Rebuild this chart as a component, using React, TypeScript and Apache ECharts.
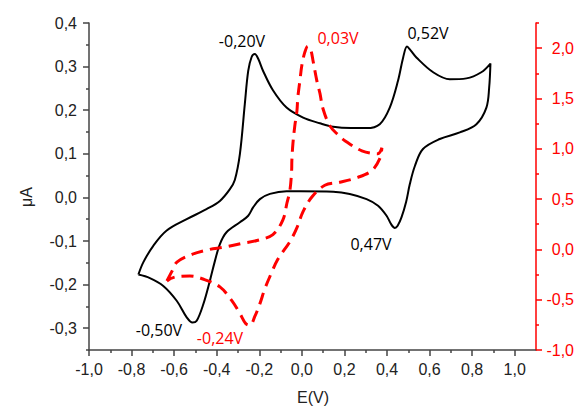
import React, { useEffect, useRef } from "react";
import * as echarts from "echarts";

// Black CV curve (left axis, µA): [E (V), I (µA)]
const blackCV: number[][] = [
  [-0.768, -0.177], [-0.745, -0.149], [-0.698, -0.111], [-0.635, -0.076], [-0.541, -0.05],
  [-0.448, -0.027], [-0.385, -0.008], [-0.338, 0.019], [-0.315, 0.04], [-0.291, 0.1],
  [-0.268, 0.214], [-0.252, 0.29], [-0.236, 0.322], [-0.221, 0.329], [-0.205, 0.318],
  [-0.182, 0.29], [-0.135, 0.245], [-0.072, 0.206], [0.006, 0.183], [0.085, 0.17],
  [0.147, 0.162], [0.23, 0.159], [0.304, 0.159], [0.366, 0.168], [0.413, 0.206],
  [0.452, 0.268], [0.476, 0.321], [0.494, 0.346], [0.51, 0.338], [0.538, 0.321],
  [0.617, 0.287], [0.695, 0.271], [0.773, 0.273], [0.843, 0.287], [0.886, 0.307],
  [0.88, 0.252], [0.867, 0.206], [0.82, 0.168], [0.742, 0.149], [0.648, 0.134],
  [0.569, 0.111], [0.531, 0.072], [0.507, 0.03], [0.49, -0.01], [0.468, -0.046],
  [0.45, -0.065], [0.437, -0.07], [0.42, -0.062], [0.398, -0.042], [0.358, -0.019],
  [0.304, -0.004], [0.225, 0.008], [0.147, 0.013], [-0.009, 0.014], [-0.072, 0.014],
  [-0.15, 0.008], [-0.197, -0.004], [-0.229, -0.023], [-0.252, -0.042], [-0.291, -0.057],
  [-0.354, -0.08], [-0.385, -0.107], [-0.408, -0.145], [-0.432, -0.191], [-0.463, -0.245],
  [-0.494, -0.283], [-0.514, -0.287], [-0.541, -0.275], [-0.588, -0.237], [-0.651, -0.203],
  [-0.714, -0.185], [-0.768, -0.177],
];

// Red dashed CV curve (right axis): [E (V), value]
const redCV: number[][] = [
  [-0.634, -0.314], [-0.61, -0.216], [-0.587, -0.127], [-0.516, -0.049], [-0.432, 0.0],
  [-0.371, 0.02], [-0.282, 0.059], [-0.211, 0.088], [-0.136, 0.147], [-0.089, 0.294],
  [-0.07, 0.461], [-0.056, 0.588], [-0.048, 0.784], [-0.047, 0.882], [-0.042, 1.05],
  [-0.033, 1.23], [-0.023, 1.38], [-0.019, 1.51], [-0.009, 1.68], [0.0, 1.83],
  [0.014, 1.96], [0.028, 2.02], [0.042, 1.98], [0.052, 1.88], [0.07, 1.68],
  [0.085, 1.55], [0.099, 1.4], [0.131, 1.23], [0.169, 1.14], [0.202, 1.08],
  [0.282, 0.98], [0.357, 0.951], [0.376, 1.01], [0.366, 0.902], [0.329, 0.784],
  [0.263, 0.716], [0.178, 0.667], [0.108, 0.637], [0.047, 0.52], [0.005, 0.373],
  [-0.023, 0.216], [-0.056, 0.078], [-0.113, -0.098], [-0.141, -0.225], [-0.174, -0.392],
  [-0.197, -0.539], [-0.221, -0.667], [-0.244, -0.755], [-0.263, -0.74], [-0.291, -0.637],
  [-0.329, -0.51], [-0.385, -0.373], [-0.465, -0.294], [-0.526, -0.265], [-0.596, -0.275],
  [-0.634, -0.314],
];

const xLabels = [-1.0, -0.8, -0.6, -0.4, -0.2, 0.0, 0.2, 0.4, 0.6, 0.8, 1.0];
const xMinor = [-0.9, -0.7, -0.5, -0.3, -0.1, 0.1, 0.3, 0.5, 0.7, 0.9];
const yLeftLabels = [-0.3, -0.2, -0.1, 0.0, 0.1, 0.2, 0.3, 0.4];
const yLeftMinor = [-0.35, -0.25, -0.15, -0.05, 0.05, 0.15, 0.25, 0.35];
const yRightLabels = [-1.0, -0.5, 0.0, 0.5, 1.0, 1.5, 2.0];
const yRightMinor = [-0.75, -0.25, 0.25, 0.75, 1.25, 1.75, 2.25];

const annotations = [
  { text: "-0,20V", x: 242, y: 41, color: "#000" },
  { text: "0,03V", x: 338, y: 38, color: "#ff0000" },
  { text: "0,52V", x: 428, y: 33, color: "#000" },
  { text: "0,47V", x: 371, y: 244, color: "#000" },
  { text: "-0,50V", x: 159, y: 330, color: "#000" },
  { text: "-0,24V", x: 220, y: 338, color: "#ff0000" },
];

const fmt = (v: number) => v.toFixed(1).replace(".", ",");
const AXIS_FONT = "'Liberation Sans', Arial, sans-serif";

export default function App() {
  const ref = useRef<HTMLDivElement>(null);
  useEffect(() => {
    document.body.style.margin = "0";
    const chart = echarts.init(ref.current!, undefined, { renderer: "svg" });
    const gray = "#444";
    const red = "#ff0000";
    const baseX = { type: "value", min: -1.0, max: 1.1, gridIndex: 0, position: "bottom", splitLine: { show: false } };
    const leftY = { type: "value", min: -0.35, max: 0.4, position: "left", splitLine: { show: false } };
    const rightY = { type: "value", min: -1.0, max: 2.25, position: "right", splitLine: { show: false } };
    chart.setOption({
      animation: false,
      grid: { left: 89, right: 41, top: 23, bottom: 56, containLabel: false },
      xAxis: [
        {
          ...baseX,
          axisLine: { show: true, onZero: false, lineStyle: { color: gray, width: 1.5 } },
          axisTick: { show: true, inside: false, length: 6, customValues: xLabels, lineStyle: { color: gray, width: 1.5 } },
          axisLabel: { customValues: xLabels, formatter: fmt, color: "#222", fontSize: 16, fontFamily: AXIS_FONT, margin: 11 },
        },
        {
          ...baseX,
          axisLine: { show: false, onZero: false },
          axisTick: { show: true, inside: false, length: 3, customValues: xMinor, lineStyle: { color: gray, width: 1.5 } },
          axisLabel: { show: false },
        },
      ],
      yAxis: [
        {
          ...leftY,
          axisLine: { show: true, onZero: false, lineStyle: { color: gray, width: 1.5 } },
          axisTick: { show: true, length: 6, customValues: yLeftLabels, lineStyle: { color: gray, width: 1.5 } },
          axisLabel: { customValues: yLeftLabels, formatter: fmt, color: "#222", fontSize: 16, fontFamily: AXIS_FONT, margin: 12 },
        },
        {
          ...leftY,
          axisLine: { show: false, onZero: false },
          axisTick: { show: true, length: 3, customValues: yLeftMinor, lineStyle: { color: gray, width: 1.5 } },
          axisLabel: { show: false },
        },
        {
          ...rightY,
          axisLine: { show: true, onZero: false, lineStyle: { color: red, width: 1.5 } },
          axisTick: { show: true, length: 6, customValues: yRightLabels, lineStyle: { color: red, width: 1.5 } },
          axisLabel: { customValues: yRightLabels, formatter: fmt, color: red, fontSize: 16, fontFamily: AXIS_FONT, margin: 38, align: "right" },
        },
        {
          ...rightY,
          axisLine: { show: false, onZero: false },
          axisTick: { show: true, length: 3, customValues: yRightMinor, lineStyle: { color: red, width: 1.5 } },
          axisLabel: { show: false },
        },
      ],
      series: [
        {
          type: "line",
          data: blackCV,
          xAxisIndex: 0,
          yAxisIndex: 0,
          smooth: 0.35,
          showSymbol: false,
          lineStyle: { color: "#000", width: 2 },
          silent: true,
        },
        {
          type: "line",
          data: redCV,
          xAxisIndex: 0,
          yAxisIndex: 2,
          smooth: 0.35,
          showSymbol: false,
          lineStyle: { color: red, width: 3, type: [12, 7] },
          silent: true,
        },
      ],
      graphic: [
        ...annotations.map((a) => ({
          type: "text",
          x: a.x,
          y: a.y,
          style: {
            text: a.text,
            fill: a.color,
            font: "16px 'Open Sans', sans-serif",
            textAlign: "center",
            textVerticalAlign: "middle",
          },
        })),
        {
          type: "text",
          x: 26,
          y: 197,
          rotation: Math.PI / 2,
          style: {
            text: "μA",
            fill: "#222",
            font: "16px 'Liberation Sans', Arial, sans-serif",
            textAlign: "center",
            textVerticalAlign: "middle",
          },
        },
        {
          type: "text",
          x: 313,
          y: 397,
          style: {
            text: "E(V)",
            fill: "#222",
            font: "16px 'Liberation Sans', Arial, sans-serif",
            textAlign: "center",
            textVerticalAlign: "middle",
          },
        },
      ],
    });
    return () => chart.dispose();
  }, []);
  return <div ref={ref} style={{ position: "absolute", left: 0, top: 0, width: 577, height: 406 }} />;
}
